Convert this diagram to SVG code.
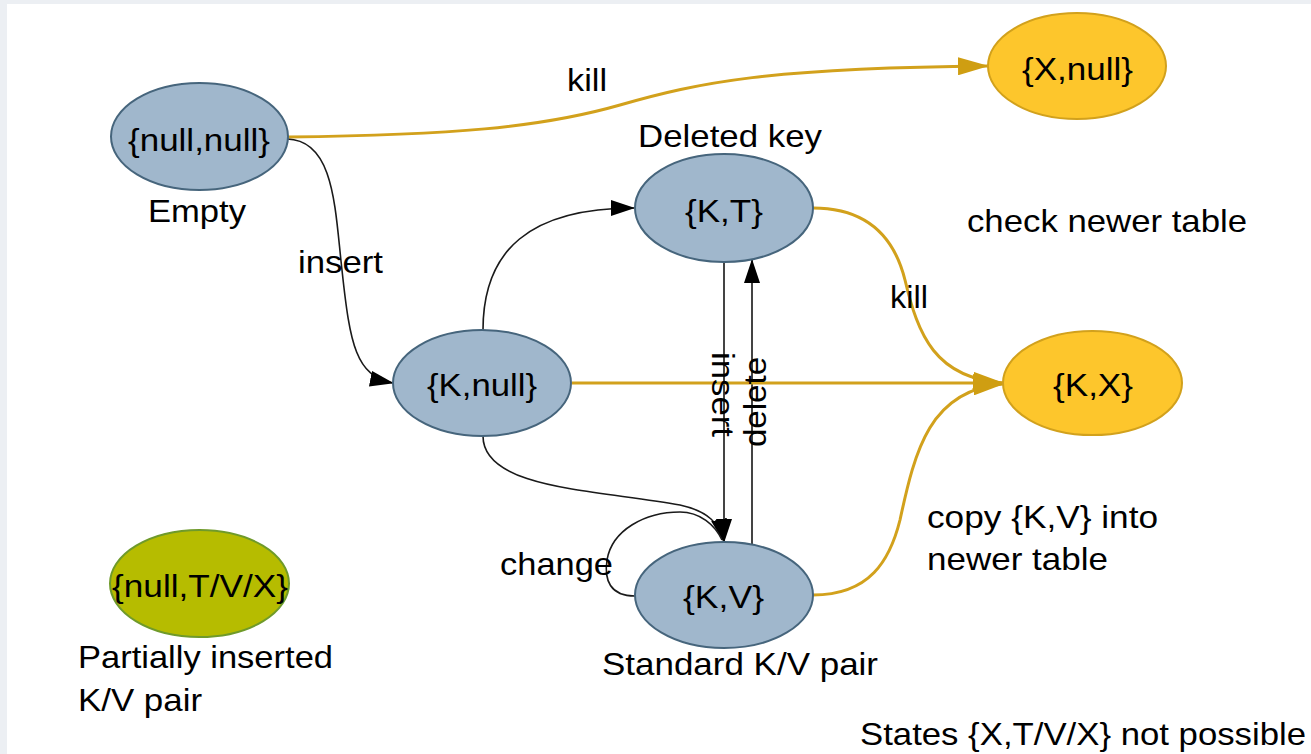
<svg xmlns="http://www.w3.org/2000/svg" width="1311" height="754" viewBox="0 0 1311 754">
  <style>
    text { font-family: "Liberation Sans", Arial, Helvetica, sans-serif; font-size: 32px; fill: #000; }
    .node-blue { fill: #a0b7cc; stroke: #46657c; stroke-width: 2; }
    .node-gold { fill: #fdc62c; stroke: #d2a11c; stroke-width: 2; }
    .node-olive { fill: #b6bc00; stroke: #6f9a2a; stroke-width: 2; }
    .edge { fill: none; stroke: #1a1a1a; stroke-width: 1.6; }
    .edge-v { fill: none; stroke: #444; stroke-width: 2; }
    .edge-gold { fill: none; stroke: #d2a11c; stroke-width: 3; }
  </style>
  <defs>
    <marker id="arrow-black" markerUnits="userSpaceOnUse" markerWidth="24" markerHeight="16" refX="23" refY="8" orient="auto">
      <path d="M0,0 L24,8 L0,16 z" fill="#000"/>
    </marker>
    <marker id="arrow-gold" markerUnits="userSpaceOnUse" markerWidth="31" markerHeight="18" refX="30" refY="9" orient="auto">
      <path d="M0,0 L31,9 L0,18 z" fill="#cf9e12"/>
    </marker>
  </defs>

  <!-- page backdrop and white sheet -->
  <rect x="0" y="0" width="1311" height="754" fill="#eceff3"/>
  <rect x="7" y="4" width="1304" height="750" fill="#ffffff"/>

  <!-- connectors -->
  <g id="connectors">
    <!-- kill: {null,null} -> {X,null} -->
    <path class="edge-gold" d="M288,137 C450,135 540,128 620,105 S770,68 988,66" marker-end="url(#arrow-gold)"/>
    <!-- insert: {null,null} -> {K,null} -->
    <path class="edge" d="M287,139 C335,140 335,210 342,270 C350,345 356,376 393,383" marker-end="url(#arrow-black)"/>
    <!-- {K,null} -> {K,T} -->
    <path class="edge" d="M483,330 C483,250 530,208 634,208" marker-end="url(#arrow-black)"/>
    <!-- {K,null} -> {K,V} -->
    <path class="edge" d="M483,436 C483,490 600,490 680,505 C708,511 720,524 724,542" marker-end="url(#arrow-black)"/>
    <!-- change: {K,V} self loop -->
    <path class="edge" d="M635,596 C610,596 604,580 607,560 C612,530 645,512 680,512 C700,512 715,525 722,540"/>
    <!-- insert: {K,T} -> {K,V} -->
    <path class="edge-v" d="M724,262 L724,542" marker-end="url(#arrow-black)"/>
    <!-- delete: {K,V} -> {K,T} -->
    <path class="edge-v" d="M752,545 L752,260" marker-end="url(#arrow-black)"/>
    <!-- {K,null} -> {K,X} -->
    <path class="edge-gold" d="M572,383 L1003,383" marker-end="url(#arrow-gold)"/>
    <!-- kill: {K,T} -> {K,X} -->
    <path class="edge-gold" d="M813,208 C870,208 895,240 905,280 C918,335 935,378 1003,383" marker-end="url(#arrow-gold)"/>
    <!-- copy: {K,V} -> {K,X} -->
    <path class="edge-gold" d="M813,595 C870,595 890,560 900,520 C915,450 930,390 1003,384" marker-end="url(#arrow-gold)"/>

    <!-- connector labels -->
    <text x="567" y="91" textLength="40" lengthAdjust="spacingAndGlyphs">kill</text>
    <text x="298" y="273" textLength="85" lengthAdjust="spacingAndGlyphs">insert</text>
    <text x="890" y="308" textLength="38" lengthAdjust="spacingAndGlyphs">kill</text>
    <text transform="translate(712,352) rotate(90)" x="0" y="0" textLength="85" lengthAdjust="spacingAndGlyphs">insert</text>
    <text transform="translate(766,447) rotate(-90)" x="0" y="0" textLength="90" lengthAdjust="spacingAndGlyphs">delete</text>
    <text x="500" y="575" textLength="113" lengthAdjust="spacingAndGlyphs">change</text>
    <text x="927" y="528" textLength="231" lengthAdjust="spacingAndGlyphs">copy {K,V} into</text>
    <text x="927" y="570" textLength="181" lengthAdjust="spacingAndGlyphs">newer table</text>
  </g>

  <!-- states -->
  <g id="node-empty">
    <ellipse class="node-blue" cx="199.5" cy="136.5" rx="88.5" ry="53.5"/>
    <text x="128" y="151" textLength="142" lengthAdjust="spacingAndGlyphs">{null,null}</text>
    <text x="148" y="222" textLength="98" lengthAdjust="spacingAndGlyphs">Empty</text>
  </g>

  <g id="node-x-null">
    <ellipse class="node-gold" cx="1077" cy="66" rx="89" ry="53"/>
    <text x="1022" y="80" textLength="111" lengthAdjust="spacingAndGlyphs">{X,null}</text>
  </g>

  <g id="node-deleted-key">
    <ellipse class="node-blue" cx="724" cy="208" rx="89" ry="54"/>
    <text x="685" y="222" textLength="78" lengthAdjust="spacingAndGlyphs">{K,T}</text>
    <text x="638" y="147" textLength="184" lengthAdjust="spacingAndGlyphs">Deleted key</text>
  </g>

  <g id="node-k-null">
    <ellipse class="node-blue" cx="482" cy="383" rx="89" ry="53"/>
    <text x="427" y="396" textLength="110" lengthAdjust="spacingAndGlyphs">{K,null}</text>
  </g>

  <g id="node-k-x">
    <ellipse class="node-gold" cx="1092.5" cy="383" rx="89.5" ry="52"/>
    <text x="1053" y="396" textLength="80" lengthAdjust="spacingAndGlyphs">{K,X}</text>
  </g>

  <g id="node-standard">
    <ellipse class="node-blue" cx="724" cy="595" rx="89" ry="53"/>
    <text x="683" y="608" textLength="81" lengthAdjust="spacingAndGlyphs">{K,V}</text>
    <text x="602" y="675" textLength="276" lengthAdjust="spacingAndGlyphs">Standard K/V pair</text>
  </g>

  <g id="node-partial">
    <ellipse class="node-olive" cx="199.5" cy="583.5" rx="89.5" ry="53.5"/>
    <text x="112" y="597" textLength="176" lengthAdjust="spacingAndGlyphs">{null,T/V/X}</text>
    <text x="78" y="668" textLength="255" lengthAdjust="spacingAndGlyphs">Partially inserted</text>
    <text x="78" y="711" textLength="124" lengthAdjust="spacingAndGlyphs">K/V pair</text>
  </g>

  <!-- notes -->
  <g id="notes">
    <text x="967" y="232" textLength="280" lengthAdjust="spacingAndGlyphs">check newer table</text>
    <text x="860" y="745" textLength="446" lengthAdjust="spacingAndGlyphs">States {X,T/V/X} not possible</text>
  </g>
</svg>
